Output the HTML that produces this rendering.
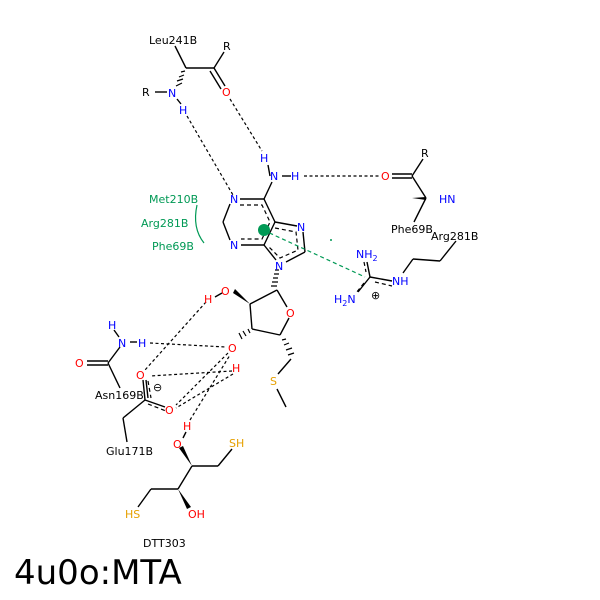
<!DOCTYPE html>
<html><head><style>body{margin:0;background:#fff}svg{display:block}text{font-family:"DejaVu Sans","Liberation Sans",sans-serif;font-size:11px}</style></head><body>
<svg width="600" height="600" viewBox="0 0 600 600" xmlns="http://www.w3.org/2000/svg">
<g stroke="#000" stroke-width="1.4" fill="none">
<line x1="175" y1="46" x2="186" y2="68"/><line x1="186" y1="68" x2="214" y2="68"/><line x1="214" y1="68" x2="224" y2="52"/>
<line x1="214" y1="68" x2="225" y2="86"/><line x1="210" y1="71" x2="221" y2="89"/>
<line x1="155" y1="92" x2="167" y2="92"/><line x1="177" y1="99" x2="181" y2="104"/>
<line x1="392" y1="174" x2="412" y2="174"/><line x1="392" y1="178" x2="412" y2="178"/>
<line x1="412" y1="176" x2="423" y2="159"/><line x1="412" y1="176" x2="426" y2="198"/><line x1="426" y1="198" x2="414" y2="222"/>
<line x1="270" y1="176" x2="268" y2="165"/><line x1="282" y1="176" x2="291" y2="176"/><line x1="272" y1="182" x2="264" y2="199"/>
<line x1="456" y1="241" x2="440" y2="261"/><line x1="440" y1="261" x2="413" y2="259"/><line x1="413" y1="259" x2="403" y2="273"/>
<line x1="370" y1="277" x2="392" y2="281"/><line x1="370" y1="277" x2="367" y2="262"/><line x1="370" y1="277" x2="358" y2="292"/>
<line x1="240" y1="199" x2="264" y2="199"/><line x1="264" y1="199" x2="275" y2="222"/><line x1="275" y1="222" x2="264" y2="245"/>
<line x1="264" y1="245" x2="241" y2="245"/><line x1="230" y1="240" x2="223" y2="222"/><line x1="223" y1="222" x2="230" y2="204"/>
<line x1="275" y1="222" x2="297" y2="226"/><line x1="303" y1="232" x2="305" y2="252"/><line x1="305" y1="252" x2="286" y2="262"/><line x1="276" y1="260" x2="264" y2="245"/>
<line x1="277" y1="290" x2="250" y2="304"/><line x1="250" y1="304" x2="252" y2="329"/><line x1="252" y1="329" x2="280" y2="335"/>
<line x1="280" y1="335" x2="289" y2="318"/><line x1="287" y1="307" x2="277" y2="290"/>
<line x1="291" y1="359" x2="278" y2="374"/><line x1="277" y1="389" x2="286" y2="407"/>
<line x1="215" y1="297" x2="222" y2="293"/>
<line x1="114" y1="330" x2="119" y2="337"/><line x1="130" y1="342" x2="137" y2="342"/><line x1="120" y1="347" x2="108" y2="363"/>
<line x1="87" y1="361" x2="108" y2="361"/><line x1="87" y1="365" x2="108" y2="365"/><line x1="108" y1="363" x2="120" y2="388"/>
<line x1="143" y1="380" x2="145" y2="400"/><line x1="146" y1="380" x2="148" y2="398"/><line x1="145" y1="400" x2="165" y2="407"/><line x1="145" y1="400" x2="123" y2="418"/><line x1="123" y1="418" x2="127" y2="442"/>
<line x1="183" y1="438" x2="186" y2="432"/><line x1="192" y1="466" x2="218" y2="466"/><line x1="218" y1="466" x2="232" y2="449"/>
<line x1="192" y1="466" x2="178" y2="489"/><line x1="178" y1="489" x2="151" y2="489"/><line x1="151" y1="489" x2="138" y2="507"/>
</g>
<polygon points="192,466 179,448 183,446" fill="#000"/>
<polygon points="178,489 191,507 187,509" fill="#000"/>
<polygon points="250,304 233,293 235,289" fill="#000"/>
<polygon points="412,198 426,197 426,200" fill="#000"/>
<g stroke="#000" stroke-width="1.2">
<path d="M185,71l-4,1M184,75l-5,2M183,79l-6,2M182,83l-6,3" />
<path d="M279,270l-4,0M279,274l-5,0M278,278l-5,0M278,282l-6,0M277,286l-6,0"/>
<path d="M250,333l-2,-4M246,336l-3,-5M242,339l-3,-6"/>
<path d="M282,340l4,-1M284,345l5,-2M286,350l6,-2M288,355l6,-2"/>
</g>
<g stroke="#000" stroke-width="1.2" stroke-dasharray="4,3" fill="none">
<path d="M240,205L262,205L270,222L262,239L241,239"/>
<path d="M275,228L296,232L298,250L280,258L268,246"/>
<line x1="364" y1="262" x2="366" y2="272"/><line x1="364" y1="283" x2="356" y2="293"/><line x1="375" y1="282" x2="392" y2="286"/>
<line x1="148" y1="381" x2="151" y2="398"/><line x1="148" y1="404" x2="166" y2="411"/>
</g>
<g stroke="#000" stroke-width="1.2" stroke-dasharray="3,2.5" fill="none">
<line x1="187" y1="116" x2="233" y2="195"/>
<line x1="230" y1="99" x2="262" y2="151"/>
<line x1="304" y1="176" x2="380" y2="176"/>
<line x1="206" y1="302" x2="145" y2="370"/>
<line x1="150" y1="343" x2="226" y2="347"/>
<line x1="228" y1="353" x2="176" y2="405"/>
<line x1="232" y1="371" x2="150" y2="376"/>
<line x1="233" y1="374" x2="176" y2="408"/>
<line x1="190" y1="420" x2="230" y2="355"/>
</g>
<g stroke="#009955" stroke-width="1.2" fill="none">
<line x1="263" y1="230" x2="365" y2="277" stroke-dasharray="4,3"/>
<path d="M197,205Q192,228 204,243"/>
</g>
<circle cx="264" cy="230" r="6" fill="#009955"/>
<circle cx="331" cy="240" r="1" fill="#009955"/>
<g fill="#009955"><text x="149" y="203">Met210B</text><text x="141" y="227">Arg281B</text><text x="152" y="250">Phe69B</text></g>
<g fill="#000">
<text x="149" y="44">Leu241B</text><text x="223" y="50">R</text><text x="142" y="96">R</text>
<text x="421" y="157">R</text><text x="391" y="233">Phe69B</text><text x="431" y="240">Arg281B</text>
<text x="95" y="399">Asn169B</text><text x="106" y="455">Glu171B</text><text x="143" y="547">DTT303</text>
</g>
<g fill="#0000ff">
<text x="168" y="97">N</text><text x="179" y="114">H</text><text x="260" y="162">H</text><text x="270" y="180">N</text><text x="291" y="180">H</text>
<text x="439" y="203">HN</text>
<text x="230" y="203">N</text><text x="230" y="249">N</text><text x="297" y="231">N</text><text x="275" y="270">N</text>
<text x="356" y="258">NH<tspan font-size="8" dy="3">2</tspan></text>
<text x="334" y="303">H<tspan font-size="8" dy="3">2</tspan><tspan dy="-3">N</tspan></text>
<text x="392" y="285">NH</text>
<text x="108" y="329">H</text><text x="118" y="347">N</text><text x="138" y="347">H</text>
</g>
<g fill="#ff0000">
<text x="222" y="96">O</text><text x="381" y="180">O</text>
<text x="221" y="295">O</text><text x="204" y="303">H</text><text x="286" y="317">O</text>
<text x="228" y="352">O</text><text x="232" y="372">H</text>
<text x="75" y="367">O</text><text x="136" y="379">O</text><text x="165" y="414">O</text>
<text x="183" y="430">H</text><text x="173" y="448">O</text><text x="188" y="518">OH</text>
</g>
<g fill="#e6a000"><text x="270" y="385">S</text><text x="229" y="447">SH</text><text x="125" y="518">HS</text></g>
<text x="153" y="391" font-size="12">⊖</text><text x="371" y="299" font-size="12">⊕</text>
<text x="14" y="584" style="font-size:34px;font-family:'DejaVu Sans',sans-serif">4u0o:MTA</text>
</svg>
</body></html>
